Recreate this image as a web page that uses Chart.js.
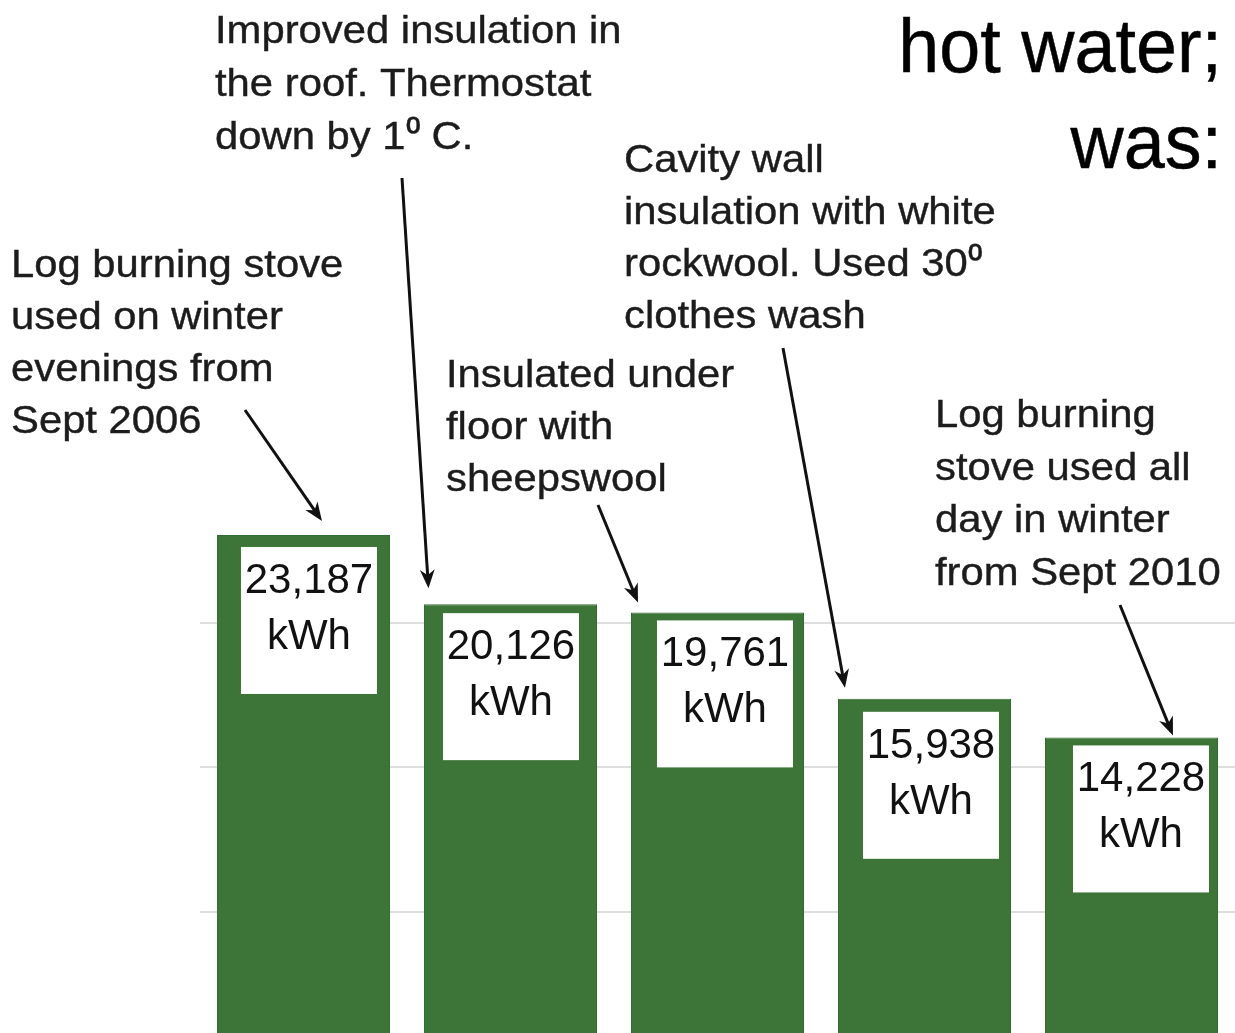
<!DOCTYPE html>
<html lang="en">
<head>
<meta charset="UTF-8">
<title>Household energy use</title>
<script src="https://cdn.jsdelivr.net/npm/chart.js@4.4.0/dist/chart.umd.min.js"></script>
<style>
  html, body { margin: 0; padding: 0; background: #fff; overflow: hidden; }
  #wrap { width: 1235px; height: 1033px; overflow: hidden; position: relative; }
  canvas { display: block; }
</style>
</head>
<body>
<div id="wrap"><canvas id="usageChart" width="1235" height="1059"></canvas></div>
<script>
// yearly energy use, left to right
const periods = ['Year 1', 'Year 2', 'Year 3', 'Year 4', 'Year 5'];
const usageKwh = [23187, 20126, 19761, 15938, 14228];
const unitLabel = 'kWh';
// values where the faint gridlines sit (no tick labels shown)
const gridValues = [6500, 12900, 19300];
const yMax = 25000;

const titleLines = ['hot water;', 'was:'];
const notes = [
    ['Log burning stove', 'used on winter', 'evenings from', 'Sept 2006'],
    ['Improved insulation in', 'the roof. Thermostat', 'down by 1\u2070 C.'],
    ['Insulated under', 'floor with', 'sheepswool'],
    ['Cavity wall', 'insulation with white', 'rockwool. Used 30\u2070', 'clothes wash'],
    ['Log burning', 'stove used all', 'day in winter', 'from Sept 2010']
];

// layout only: text position, arrow start, arrow tip relative to bar top-left
const noteLayout = [
    { x: 11,  y: 277, lh: 52, from: [245, 410],  tip: [105, -14] },
    { x: 215, y: 43,  lh: 53, from: [402, 178],  tip: [4.5, -16] },
    { x: 446, y: 387, lh: 52, from: [598, 505],  tip: [7, -10] },
    { x: 624, y: 172, lh: 52, from: [783, 348],  tip: [7, -11] },
    { x: 935, y: 427, lh: 52.5, from: [1120, 605], tip: [128, -2] }
];
const boxInsets = [[24, 12], [19, 9], [26, 8], [25, 13], [28, 8]];
const boxW = 136, boxH = 147;
const FONT = '"Liberation Sans", Arial, Helvetica, sans-serif';

function stretchedText(ctx, text, x, y, sx) {
    ctx.save();
    ctx.translate(x, y);
    ctx.scale(sx, 1);
    ctx.fillText(text, 0, 0);
    ctx.strokeText(text, 0, 0);
    ctx.restore();
}

function drawArrow(ctx, x1, y1, x2, y2) {
    const a = Math.atan2(y2 - y1, x2 - x1);
    const head = 20, spread = 0.38;
    ctx.beginPath();
    ctx.moveTo(x1, y1);
    ctx.lineTo(x2 - Math.cos(a) * head * 0.6, y2 - Math.sin(a) * head * 0.6);
    ctx.stroke();
    ctx.beginPath();
    ctx.moveTo(x2, y2);
    ctx.lineTo(x2 - head * Math.cos(a - spread), y2 - head * Math.sin(a - spread));
    ctx.lineTo(x2 - head * 0.65 * Math.cos(a), y2 - head * 0.65 * Math.sin(a));
    ctx.lineTo(x2 - head * Math.cos(a + spread), y2 - head * Math.sin(a + spread));
    ctx.closePath();
    ctx.fill();
}

const annotationPlugin = {
    id: 'annotations',
    afterDatasetsDraw(chart) {
        const ctx = chart.ctx;
        const bars = chart.getDatasetMeta(0).data;
        ctx.save();

        // white value boxes inside the bars
        bars.forEach((bar, i) => {
            const left = bar.x - bar.width / 2 + boxInsets[i][0];
            const top = bar.y + boxInsets[i][1];
            ctx.fillStyle = '#ffffff';
            ctx.fillRect(left, top, boxW, boxH);
            ctx.fillStyle = '#111111';
            ctx.font = '42px ' + FONT;
            ctx.textAlign = 'center';
            ctx.textBaseline = 'alphabetic';
            ctx.fillText(usageKwh[i].toLocaleString('en-US'), left + boxW / 2, top + 46);
            ctx.fillText(unitLabel, left + boxW / 2, top + 102);
        });

        // notes and arrows
        ctx.textAlign = 'left';
        ctx.font = '38px ' + FONT;
        notes.forEach((lines, i) => {
            const L = noteLayout[i];
            ctx.fillStyle = '#1c1c1c';
            ctx.strokeStyle = '#1c1c1c';
            ctx.lineWidth = 0.4;
            lines.forEach((line, j) => stretchedText(ctx, line, L.x, L.y + j * L.lh, 1.1));
            const bar = bars[i];
            const tx = bar.x - bar.width / 2 + L.tip[0];
            const ty = bar.y + L.tip[1];
            ctx.fillStyle = '#111111';
            ctx.strokeStyle = '#111111';
            ctx.lineWidth = 3;
            drawArrow(ctx, L.from[0], L.from[1], tx, ty);
        });

        // heading fragment, top right
        ctx.textAlign = 'right';
        ctx.font = '76px ' + FONT;
        ctx.fillStyle = '#000000';
        ctx.strokeStyle = '#000000';
        ctx.lineWidth = 0.5;
        stretchedText(ctx, titleLines[0], 1222, 72, 0.97);
        stretchedText(ctx, titleLines[1], 1222, 168, 0.97);
        ctx.restore();
    }
};

new Chart(document.getElementById('usageChart').getContext('2d'), {
    type: 'bar',
    data: {
        labels: periods,
        datasets: [{
            data: usageKwh,
            backgroundColor: '#3c7537',
            borderColor: '#336b30',
            borderWidth: 1,
            barPercentage: 0.836,
            categoryPercentage: 1
        }]
    },
    options: {
        responsive: false,
        animation: false,
        layout: { padding: { top: 494, left: 200, right: 0, bottom: 0 } },
        plugins: { legend: { display: false }, tooltip: { enabled: false } },
        scales: {
            x: { display: false },
            y: {
                min: 0,
                max: yMax,
                ticks: { display: false },
                border: { display: false },
                grid: { color: '#dedede', lineWidth: 2, drawTicks: false },
                afterBuildTicks: scale => {
                    scale.ticks = gridValues.map(v => ({ value: v }));
                }
            }
        }
    },
    plugins: [annotationPlugin]
});
</script>
</body>
</html>
